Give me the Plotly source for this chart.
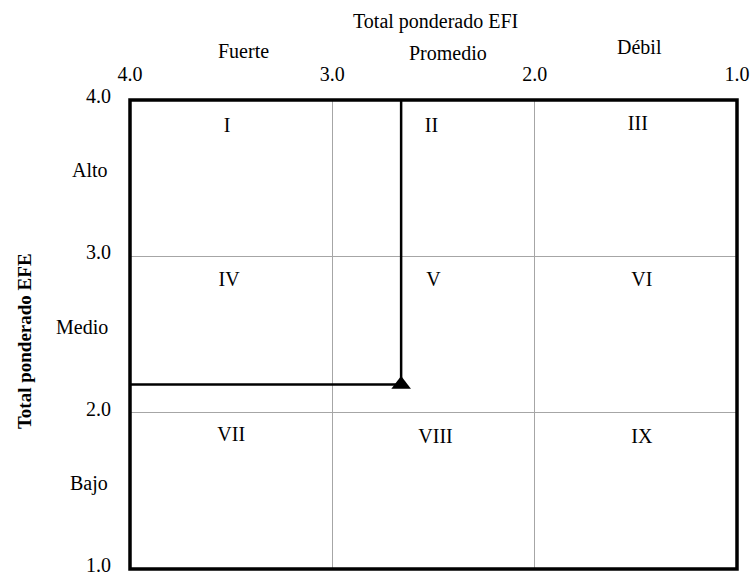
import plotly.graph_objects as go

# Data
efi_score = [2.66]   # Total ponderado EFI (x)
efe_score = [2.18]   # Total ponderado EFE (y)
x_ticks = [4.0, 3.0, 2.0, 1.0]
y_ticks = [4.0, 3.0, 2.0, 1.0]
x_categories = ["Fuerte", "Promedio", "Débil"]
x_cat_pos = [3.44, 2.43, 1.48]
x_cat_shift = [49, 47, 53]
y_categories = ["Alto", "Medio", "Bajo"]
y_cat_pos = [3.55, 2.55, 1.55]
cell_labels = ["I", "II", "III", "IV", "V", "VI", "VII", "VIII", "IX"]
cell_x = [3.52, 2.51, 1.49, 3.51, 2.50, 1.47, 3.50, 2.49, 1.47]
cell_y = [3.83, 3.83, 3.84, 2.84, 2.84, 2.84, 1.85, 1.84, 1.84]

FONT = "Liberation Serif"
FS = 20
x_max = x_ticks[0]
y_max = y_ticks[0]

fig = go.Figure()

# vertical line from point to top
fig.add_trace(go.Scatter(
    x=[efi_score[0], efi_score[0]], y=[efe_score[0], y_max],
    mode="lines", line=dict(color="black", width=2.5),
    hoverinfo="skip", showlegend=False, cliponaxis=False))
# horizontal line from left edge to point
fig.add_trace(go.Scatter(
    x=[x_max, efi_score[0]], y=[efe_score[0], efe_score[0]],
    mode="lines", line=dict(color="black", width=2.5),
    hoverinfo="skip", showlegend=False, cliponaxis=False))
# point marker
fig.add_trace(go.Scatter(
    x=efi_score, y=efe_score, mode="markers",
    marker=dict(symbol="triangle-up", size=17, color="black"),
    showlegend=False, cliponaxis=False))

# cell labels
fig.add_trace(go.Scatter(
    x=cell_x, y=cell_y, mode="text", text=cell_labels,
    textfont=dict(family=FONT, size=FS, color="black"),
    hoverinfo="skip", showlegend=False))

annotations = []
for lab, xp, sh in zip(x_categories, x_cat_pos, x_cat_shift):
    annotations.append(dict(text=lab, x=xp, xref="x", y=1, yref="paper",
                            yshift=sh, showarrow=False, yanchor="middle",
                            font=dict(family=FONT, size=FS, color="black")))
for lab, yp in zip(y_categories, y_cat_pos):
    annotations.append(dict(text=lab, y=yp, yref="y", x=0, xref="paper",
                            xshift=-20, showarrow=False, xanchor="right",
                            yanchor="middle",
                            font=dict(family=FONT, size=FS, color="black")))
annotations.append(dict(text="Total ponderado EFI", x=0.504, xref="paper",
                        y=1, yref="paper", yshift=79, showarrow=False,
                        yanchor="middle",
                        font=dict(family=FONT, size=FS, color="black")))
annotations.append(dict(text="<b>Total ponderado EFE</b>", x=0, xref="paper",
                        xshift=-106, y=0.486, yref="paper", textangle=-90,
                        showarrow=False, xanchor="center", yanchor="middle",
                        font=dict(family=FONT, size=19, color="black")))

fig.update_layout(
    width=750, height=582,
    margin=dict(l=130, r=13, t=100, b=13),
    plot_bgcolor="white", paper_bgcolor="white",
    annotations=annotations,
    shapes=[dict(type="rect", xref="paper", yref="paper", x0=0, x1=1, y0=0, y1=1,
                 line=dict(color="black", width=3.5), layer="above")],
    xaxis=dict(range=[x_ticks[0], x_ticks[-1]], side="top", automargin=False,
               tickvals=x_ticks, ticktext=[f"{v:.1f}" for v in x_ticks],
               showgrid=True, gridcolor="#a6a6a6", gridwidth=1,
               zeroline=False, showline=False, ticks="", ticklabelstandoff=14,
               tickfont=dict(family=FONT, size=FS, color="black")),
    yaxis=dict(range=[y_ticks[-1], y_ticks[0]], automargin=False,
               tickvals=y_ticks, ticktext=[f"{v:.1f}" for v in y_ticks],
               showgrid=True, gridcolor="#a6a6a6", gridwidth=1,
               zeroline=False, showline=False, ticks="", ticklabelstandoff=18,
               ticklabelshift=-4,
               tickfont=dict(family=FONT, size=FS, color="black")),
)

fig.write_html(
    "out.html",
    config={"displayModeBar": False},
    post_script="document.body.style.margin='0';document.body.style.overflow='hidden';",
)
